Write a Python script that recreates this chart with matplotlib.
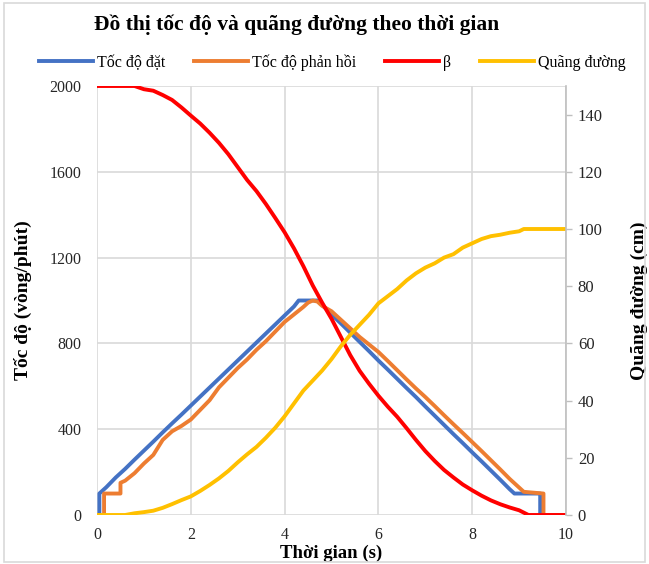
import matplotlib.pyplot as plt
from matplotlib.patches import Rectangle

plt.rcParams.update({
    "font.family": ["Liberation Serif", "DejaVu Serif"],
    "font.size": 11,
})

# ---- datos ----
t_dat = [0, 0.05, 0.05, 0.2, 0.4, 0.6, 0.8, 1.0, 1.2, 1.4, 1.6, 1.8, 2.0, 2.2,
         2.4, 2.6, 2.8, 3.0, 3.2, 3.4, 3.6, 3.8, 4.0, 4.2, 4.3, 4.7, 4.8, 5.0,
         5.2, 5.4, 5.6, 5.8, 6.0, 6.2, 6.4, 6.6, 6.8, 7.0, 7.2, 7.4, 7.6, 7.8,
         8.0, 8.2, 8.4, 8.6, 8.8, 8.9, 9.45, 9.45, 10]
v_dat = [0, 0, 100, 130, 175, 215, 258, 300, 342, 385, 427, 468, 510, 552,
         594, 636, 678, 720, 762, 804, 846, 888, 930, 972, 1000, 1000, 980, 935,
         893, 850, 807, 764, 720, 678, 635, 592, 550, 506, 463, 420, 377, 335,
         292, 250, 207, 164, 120, 100, 100, 0, 0]

t_ph = [0, 0.15, 0.15, 0.5, 0.5, 0.6, 0.8, 1.0, 1.2, 1.4, 1.6, 1.8, 2.0, 2.2,
        2.4, 2.6, 2.8, 3.0, 3.2, 3.4, 3.6, 3.8, 4.0, 4.2, 4.4, 4.5, 4.6, 4.7,
        4.8, 5.0, 5.2, 5.4, 5.6, 5.8, 6.0, 6.2, 6.4, 6.6, 6.8, 7.0, 7.2, 7.4,
        7.6, 7.8, 8.0, 8.2, 8.4, 8.6, 8.8, 9.0, 9.1, 9.52, 9.52, 10]
v_ph = [0, 0, 100, 100, 150, 160, 195, 240, 280, 350, 390, 415, 445, 490,
        535, 595, 640, 685, 725, 770, 810, 855, 900, 935, 970, 990, 1000, 995,
        975, 950, 910, 870, 830, 795, 760, 718, 675, 632, 590, 550, 508, 465,
        423, 382, 340, 298, 255, 212, 168, 128, 108, 100, 0, 0]

t_beta = [0, 0.8, 1.0, 1.2, 1.4, 1.6, 1.8, 2.0, 2.2, 2.4, 2.6, 2.8, 3.0, 3.2,
          3.4, 3.6, 3.8, 4.0, 4.2, 4.4, 4.6, 4.8, 5.0, 5.2, 5.4, 5.6, 5.8, 6.0,
          6.2, 6.4, 6.6, 6.8, 7.0, 7.2, 7.4, 7.6, 7.8, 8.0, 8.2, 8.4, 8.6, 8.8,
          9.0, 9.2, 10]
beta = [2000, 2000, 1985, 1978, 1958, 1935, 1900, 1862, 1825, 1782, 1735, 1682,
        1622, 1562, 1510, 1450, 1385, 1318, 1243, 1160, 1070, 990, 915, 830,
        745, 672, 612, 556, 505, 458, 405, 350, 298, 252, 210, 175, 142, 115,
        90, 68, 50, 35, 22, 0, 0]

t_qd = [0, 0.6, 0.8, 1.0, 1.2, 1.4, 1.6, 1.8, 2.0, 2.2, 2.4, 2.6, 2.8, 3.0,
        3.2, 3.4, 3.6, 3.8, 4.0, 4.2, 4.4, 4.6, 4.8, 5.0, 5.2, 5.4, 5.6, 5.8,
        6.0, 6.2, 6.4, 6.6, 6.8, 7.0, 7.2, 7.4, 7.6, 7.8, 8.0, 8.2, 8.4, 8.6,
        8.8, 9.0, 9.1, 10]
quang_duong = [0, 0, 0.6, 1.0, 1.5, 2.5, 3.8, 5.2, 6.5, 8.4, 10.5, 12.8, 15.4,
               18.4, 21.2, 23.8, 27, 30.5, 34.5, 39, 43.5, 47, 50.5, 54.5, 59,
               63, 66.5, 70, 74, 76.5, 79, 82, 84.5, 86.5, 88, 90, 91.2, 93.5,
               95, 96.5, 97.5, 98, 98.7, 99.2, 100, 100]

x_ticks = [0, 2, 4, 6, 8, 10]
y_ticks = [0, 400, 800, 1200, 1600, 2000]
y2_ticks = [0, 20, 40, 60, 80, 100, 120, 140]

C_GRID = "#D9D9D9"
C_TEXT = "#262626"

fig = plt.figure(figsize=(6.49, 5.64), dpi=100)
fig.patches.append(Rectangle((0.006, 0.004), 0.988, 0.99, transform=fig.transFigure,
                             fill=False, edgecolor=C_GRID, linewidth=1.2))
ax = fig.add_axes([0.1495, 0.0869, 0.7226, 0.7606])
ax2 = ax.twinx()

lw = 2.8
l1, = ax.plot(t_dat, v_dat, color="#4472C4", lw=lw, label="Tốc độ đặt", zorder=2)
l2, = ax.plot(t_ph, v_ph, color="#ED7D31", lw=lw, label="Tốc độ phản hồi", zorder=3)
l3, = ax.plot(t_beta, beta, color="#FF0000", lw=lw, label="β", zorder=4)
l4, = ax2.plot(t_qd, quang_duong, color="#FFC000", lw=lw, label="Quãng đường")
ax2.set_zorder(ax.get_zorder() + 1)

ax.set_xlim(0, 10)
ax.set_ylim(0, 2000)
ax2.set_ylim(0, 150)
ax.set_xticks(x_ticks)
ax.set_yticks(y_ticks)
ax2.set_yticks(y2_ticks)

ax.grid(True, color=C_GRID, linewidth=1.2)
ax.set_axisbelow(True)
for s in ["top", "right", "bottom", "left"]:
    ax.spines[s].set_visible(False)
for s in ["top", "left", "bottom"]:
    ax2.spines[s].set_visible(False)
ax2.spines["right"].set_color("#BFBFBF")
ax2.spines["right"].set_linewidth(1.2)

ax.tick_params(axis="both", length=0, labelsize=11.5, colors=C_TEXT, pad=9)
ax.tick_params(axis="y", pad=11)
ax2.tick_params(axis="y", length=4.5, width=1, color="#BFBFBF", labelsize=12,
                labelcolor=C_TEXT, pad=4)

ax.set_xlabel("Thời gian (s)", fontsize=13.5, fontweight="bold", labelpad=1)
ax.set_ylabel("Tốc độ (vòng/phút)", fontsize=14, fontweight="bold", labelpad=13)
ax2.set_ylabel("Quãng đường (cm)", fontsize=14, fontweight="bold", labelpad=20)

fig.text(0.457, 0.957, "Đồ thị tốc độ và quãng đường theo thời gian",
         ha="center", va="center", fontsize=15.5, fontweight="bold")
fig.legend(handles=[l1, l2, l3, l4], loc="center", bbox_to_anchor=(0.512, 0.889),
           ncol=4, frameon=False, fontsize=11.5, handlelength=3.4,
           columnspacing=1.8, handletextpad=0.25)

fig.savefig("out.png", dpi=100)
